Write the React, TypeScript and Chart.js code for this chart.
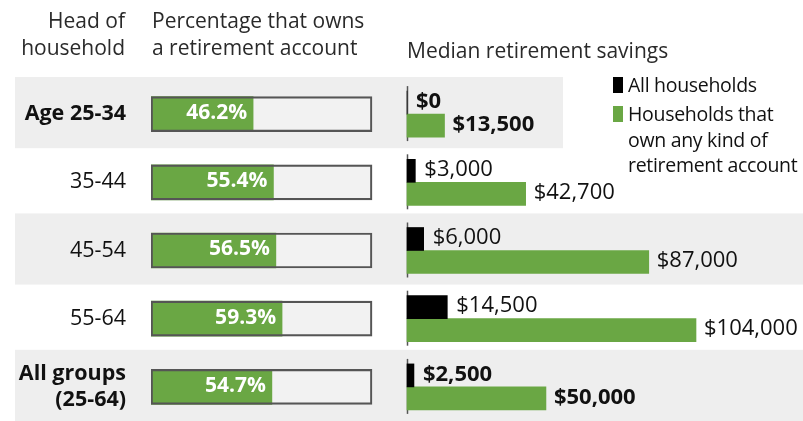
import React, { useEffect, useRef } from 'react';
import { Chart, registerables } from 'chart.js';

Chart.register(...registerables);

// ---- Data ----
const categories: (string | string[])[] = ['Age 25-34', '35-44', '45-54', '55-64', ['All groups', '(25-64)']];
const pctOwning = [46.2, 55.4, 56.5, 59.3, 54.7];
const pctFull = [100, 100, 100, 100, 100];
const medianAll = [0, 3000, 6000, 14500, 2500];
const medianOwners = [13500, 42700, 87000, 104000, 50000];
const boldRows = [true, false, false, false, true];

// ---- Layout / style ----
const W = 803;
const H = 421;
const FONT = '"Open Sans", "Noto Sans", sans-serif';
const GREEN = '#6aa744';
const BAND = '#eeeeee';
const PLOT_TOP = 80;
const PCT_LEFT = 151;
const PCT_RIGHT = 372;
const SAV_ZERO = 407;
const SAV_PX_PER_UNIT = (696 - 407) / 104000;

const fmtMoney = (v: number) => '$' + v.toLocaleString('en-US');
const fmtPct = (v: number) => v.toFixed(1) + '%';

const bandsPlugin = {
  id: 'bands',
  beforeDraw(chart: any) {
    const { ctx } = chart;
    const y = chart.scales.y;
    const step = y.getPixelForValue(1) - y.getPixelForValue(0);
    ctx.save();
    ctx.fillStyle = BAND;
    [0, 2, 4].forEach((i) => {
      const c = y.getPixelForValue(i);
      const top = c - step / 2 - 3;
      const bottom = Math.min(c + step / 2, H);
      const right = i === 0 ? 563 : W;
      ctx.fillRect(15, top, right - 15, bottom - top);
    });
    ctx.restore();
  },
  beforeDatasetsDraw(chart: any) {
    const { ctx } = chart;
    const y = chart.scales.y;
    const xs = chart.scales.xs;
    const x0 = Math.round(xs.getPixelForValue(0)) + 0.5;
    ctx.save();
    ctx.strokeStyle = '#555';
    ctx.lineWidth = 1.5;
    categories.forEach((_, i) => {
      const c = y.getPixelForValue(i);
      ctx.beginPath();
      ctx.moveTo(x0, c - 28);
      ctx.lineTo(x0, c + 27);
      ctx.stroke();
    });
    ctx.restore();
  },
};

const labelsPlugin = {
  id: 'valueLabels',
  afterDatasetsDraw(chart: any) {
    const { ctx } = chart;
    ctx.save();
    ctx.textBaseline = 'middle';
    // percentage labels
    const pm = chart.getDatasetMeta(1);
    ctx.fillStyle = '#ffffff';
    ctx.textAlign = 'right';
    ctx.font = `bold 21px ${FONT}`;
    pm.data.forEach((bar: any, i: number) => {
      ctx.fillText(fmtPct(pctOwning[i]), bar.x - 6, bar.y - 1);
    });
    // savings labels
    ctx.fillStyle = '#111';
    ctx.textAlign = 'left';
    [3, 4].forEach((di) => {
      const meta = chart.getDatasetMeta(di);
      const vals = di === 3 ? medianAll : medianOwners;
      meta.data.forEach((bar: any, i: number) => {
        ctx.font = `${boldRows[i] ? 'bold ' : ''}22px ${FONT}`;
        ctx.fillText(fmtMoney(vals[i]), bar.x + (di === 3 ? 9 : 8), bar.y - 1);
      });
    });
    ctx.restore();
  },
};

function ChartCanvas() {
  const ref = useRef<HTMLCanvasElement | null>(null);
  useEffect(() => {
    if (!ref.current) return;
    const chart = new Chart(ref.current, {
      type: 'bar',
      data: {
        labels: categories as any,
        datasets: [
          {
            data: pctFull,
            xAxisID: 'xp',
            yAxisID: 'y2',
            backgroundColor: '#f2f2f2',
            borderWidth: 0,
            grouped: false,
            order: 3,
            barThickness: 35,
            maxBarThickness: 35,
          } as any,
          {
            data: pctOwning,
            xAxisID: 'xp',
            yAxisID: 'y2',
            backgroundColor: GREEN,
            borderWidth: 0,
            grouped: false,
            order: 2,
            barThickness: 35,
            maxBarThickness: 35,
          },
          {
            data: pctFull,
            xAxisID: 'xp',
            yAxisID: 'y2',
            backgroundColor: 'rgba(0,0,0,0)',
            borderColor: '#555',
            borderWidth: 1.5,
            borderSkipped: false,
            grouped: false,
            order: 1,
            barThickness: 35,
            maxBarThickness: 35,
          },
          {
            data: medianAll,
            xAxisID: 'xs',
            yAxisID: 'y',
            backgroundColor: '#000',
            borderWidth: 0,
            barThickness: 23,
            order: 0,
          },
          {
            data: medianOwners,
            xAxisID: 'xs',
            yAxisID: 'y',
            backgroundColor: GREEN,
            borderWidth: 0,
            barThickness: 23,
            order: 0,
          },
        ],
      },
      options: {
        indexAxis: 'y',
        responsive: false,
        animation: false,
        events: [],
        layout: { padding: { top: PLOT_TOP, left: 0, right: 0, bottom: 0 }, autoPadding: false },
        plugins: { legend: { display: false }, tooltip: { enabled: false }, title: { display: false } },
        scales: {
          y: {
            type: 'category',
            position: 'left',
            offset: true,
            grid: { display: false, drawTicks: false },
            border: { display: false },
            ticks: {
              autoSkip: false,
              padding: PCT_LEFT - 126,
              color: '#111',
              font: (c: any) => ({
                family: FONT,
                size: 21.5,
                weight: boldRows[c.index] ? 'bold' : 'normal',
                lineHeight: 1.17,
              }),
            },
            afterFit: (s: any) => {
              s.width = PCT_LEFT;
              s.paddingTop = 0;
              s.paddingBottom = 0;
            },
          },
          y2: {
            type: 'category',
            position: 'left',
            offset: true,
            display: false,
          },
          xp: {
            type: 'linear',
            position: 'bottom',
            display: false,
            min: 0,
            max: (100 * (W - PCT_LEFT)) / (PCT_RIGHT - PCT_LEFT),
          },
          xs: {
            type: 'linear',
            position: 'bottom',
            display: false,
            min: -(SAV_ZERO - PCT_LEFT) / SAV_PX_PER_UNIT,
            max: (W - SAV_ZERO) / SAV_PX_PER_UNIT,
          },
        },
      } as any,
      plugins: [bandsPlugin, labelsPlugin],
    });
    return () => chart.destroy();
  }, []);
  return <canvas ref={ref} width={W} height={H} style={{ position: 'absolute', left: 0, top: 0, width: W, height: H }} />;
}

const txt: React.CSSProperties = {
  position: 'absolute',
  fontFamily: FONT,
  fontSize: 21,
  color: '#2a2a2a',
  whiteSpace: 'nowrap',
};

export default function App() {
  return (
    <div style={{ position: 'absolute', left: 0, top: 0, width: W, height: H, background: '#fff', overflow: 'hidden' }}>
      <ChartCanvas />
      <div style={{ ...txt, left: 0, width: 125, top: 7, textAlign: 'right', lineHeight: '27px' }}>
        Head of<br />household
      </div>
      <div style={{ ...txt, left: 152, top: 7, lineHeight: '27px' }}>
        Percentage that owns<br />a retirement account
      </div>
      <div style={{ ...txt, left: 407, top: 37, lineHeight: '27px' }}>Median retirement savings</div>
      <div style={{ position: 'absolute', left: 613, top: 77, width: 10, height: 16, background: '#000' }} />
      <div style={{ position: 'absolute', left: 613, top: 106, width: 10, height: 16, background: GREEN }} />
      <div style={{ ...txt, fontSize: 19.5, letterSpacing: -0.3, left: 628, top: 71, lineHeight: '27px', color: '#111' }}>All households</div>
      <div style={{ ...txt, fontSize: 19.5, letterSpacing: -0.3, left: 628, top: 101, lineHeight: '25.5px', color: '#111' }}>
        Households that<br />own any kind of<br />retirement account
      </div>
    </div>
  );
}
